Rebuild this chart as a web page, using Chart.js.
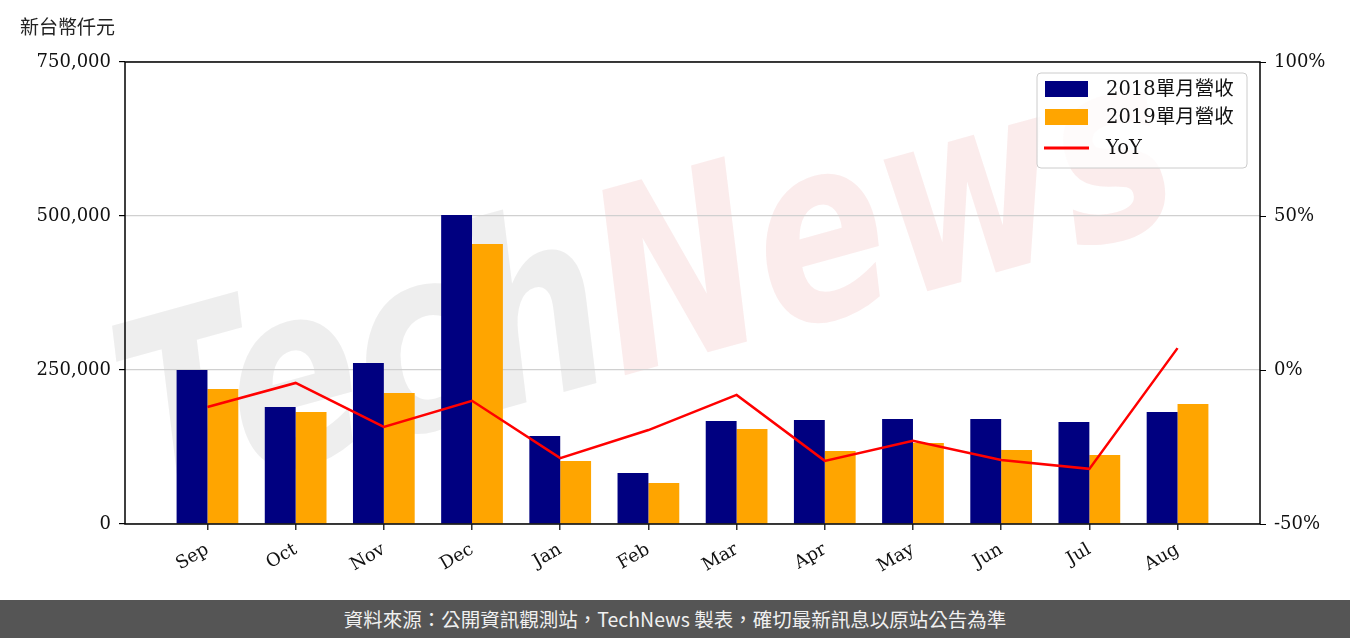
<!DOCTYPE html>
<html>
<head>
<meta charset="utf-8">
<script src="https://cdn.jsdelivr.net/npm/chart.js@4"></script>
<style>
  body { margin: 0; background: #fff; }
  #wrap { width: 1350px; height: 600px; }
  #footer {
    width: 1350px; height: 38px; background: #555555; color: #f0f0f0;
    font: 19.5px "Noto Sans CJK TC", "Noto Sans", sans-serif;
    text-align: center; line-height: 38px;
  }
</style>
</head>
<body>
<div id="wrap"><canvas id="myChart" width="1350" height="600"></canvas></div>
<div id="footer">資料來源：公開資訊觀測站，TechNews 製表，確切最新訊息以原站公告為準</div>
<script>
// months shown on the x axis
var months = ['Sep', 'Oct', 'Nov', 'Dec', 'Jan', 'Feb', 'Mar', 'Apr', 'May', 'Jun', 'Jul', 'Aug'];
// monthly revenue, NT$ thousand
var rev2018 = [250000, 189900, 261400, 501600, 142900, 82800, 167200, 168800, 170500, 170500, 165600, 181800];
var rev2019 = [219200, 181800, 212700, 454500, 102300, 66600, 154200, 118500, 131500, 120100, 112000, 194800];
// year over year change, %
var yoy = [-12.0, -4.2, -18.5, -10.0, -28.6, -19.5, -8.1, -29.5, -23.0, -29.2, -32.1, 7.1];
var leftTicks = [0, 250000, 500000, 750000];
var rightTicks = [-50, 0, 50, 100];

var serif = '"DejaVu Serif", "Noto Sans CJK TC", serif';

function points(arr) {
    return arr.map(function (v, i) { return { x: i, y: v }; });
}

// big faint TechNews mark behind the plot
var watermark = {
    id: 'watermark',
    beforeDraw: function (chart) {
        var c = chart.ctx;
        c.save();
        c.translate(650, 300);
        c.rotate(-0.27);
        c.font = 'italic bold 230px "DejaVu Sans"';
        var w1 = c.measureText('Tech').width;
        var w2 = c.measureText('News').width;
        var sx = 1080 / (w1 + w2);
        c.scale(sx, 1.1);
        c.textBaseline = 'middle';
        c.fillStyle = 'rgba(200,200,200,0.3)';
        c.fillText('Tech', -(w1 + w2) / 2, 0);
        c.fillStyle = 'rgba(235,150,150,0.18)';
        c.fillText('News', -(w1 + w2) / 2 + w1, 0);
        c.restore();
    }
};

// frame, unit label and legend box
var decor = {
    id: 'decor',
    afterDraw: function (chart) {
        var c = chart.ctx;
        var a = chart.chartArea;
        c.save();
        c.strokeStyle = '#000';
        c.lineWidth = 1.5;
        c.strokeRect(a.left, a.top, a.right - a.left, a.bottom - a.top);

        c.fillStyle = '#222';
        c.font = '19px "Noto Sans CJK TC", sans-serif';
        c.textBaseline = 'middle';
        c.fillText('新台幣仟元', 20, 27);

        // legend
        var lx = 1037, ly = 73, lw = 210, lh = 95;
        c.beginPath();
        c.roundRect(lx, ly, lw, lh, 4);
        c.fillStyle = 'rgba(255,255,255,0.8)';
        c.fill();
        c.strokeStyle = '#cccccc';
        c.lineWidth = 1;
        c.stroke();
        var ds = chart.data.datasets;
        var rows = [ly + 16, ly + 44, ly + 75];
        c.font = '19.5px ' + serif;
        ds.forEach(function (d, i) {
            var y = rows[i];
            if (d.type === 'line') {
                c.strokeStyle = d.borderColor;
                c.lineWidth = 3;
                c.beginPath();
                c.moveTo(1044, y);
                c.lineTo(1089, y);
                c.stroke();
            } else {
                c.fillStyle = d.backgroundColor;
                c.fillRect(1045, y - 8, 43, 16);
            }
            c.fillStyle = '#111';
            c.fillText(d.label, 1106, y + 1);
        });
        c.restore();
    }
};

var ctx = document.getElementById('myChart').getContext('2d');
var myChart = new Chart(ctx, {
    type: 'bar',
    data: {
        datasets: [{
            label: '2018單月營收',
            backgroundColor: '#000080',
            data: points(rev2018),
            order: 1
        }, {
            label: '2019單月營收',
            backgroundColor: '#FFA500',
            data: points(rev2019),
            order: 1
        }, {
            type: 'line',
            label: 'YoY',
            borderColor: '#FF0000',
            borderWidth: 2.5,
            pointRadius: 0,
            tension: 0,
            fill: false,
            yAxisID: 'y2',
            data: points(yoy),
            order: 0
        }]
    },
    options: {
        responsive: false,
        animation: false,
        categoryPercentage: 0.7,
        barPercentage: 1.0,
        layout: { padding: { top: 62, left: 0, right: 0, bottom: 0 } },
        plugins: {
            legend: { display: false },
            tooltip: { enabled: false }
        },
        scales: {
            x: {
                type: 'linear',
                offset: false,
                min: -0.935,
                max: 11.935,
                afterBuildTicks: function (s) {
                    s.ticks = months.map(function (m, i) { return { value: i }; });
                },
                afterFit: function (s) { s.height = 76; },
                border: { display: false },
                grid: { offset: false, drawOnChartArea: false, tickLength: 6, tickColor: '#333', lineWidth: 1.5 },
                ticks: {
                    minRotation: 30, maxRotation: 30, padding: 9,
                    color: '#111',
                    font: { family: serif, size: 18 },
                    callback: function (v) { return months[v]; }
                }
            },
            y: {
                position: 'left',
                min: 0,
                max: 750000,
                afterBuildTicks: function (s) {
                    s.ticks = leftTicks.map(function (v) { return { value: v }; });
                },
                afterFit: function (s) { s.width = 125; },
                border: { display: false },
                grid: { color: '#d0d0d0', tickColor: '#000', tickLength: 6, lineWidth: 1.2 },
                ticks: {
                    padding: 8, color: '#111',
                    font: { family: serif, size: 18 },
                    callback: function (v) { return v.toLocaleString('en-US'); }
                }
            },
            y2: {
                position: 'right',
                min: -50,
                max: 100,
                afterBuildTicks: function (s) {
                    s.ticks = rightTicks.map(function (v) { return { value: v }; });
                },
                afterFit: function (s) { s.width = 90; },
                border: { display: false },
                grid: { drawOnChartArea: false, tickColor: '#000', tickLength: 6 },
                ticks: {
                    padding: 8, color: '#111',
                    font: { family: serif, size: 18 },
                    callback: function (v) { return v + '%'; }
                }
            }
        }
    },
    plugins: [watermark, decor]
});
</script>
</body>
</html>
